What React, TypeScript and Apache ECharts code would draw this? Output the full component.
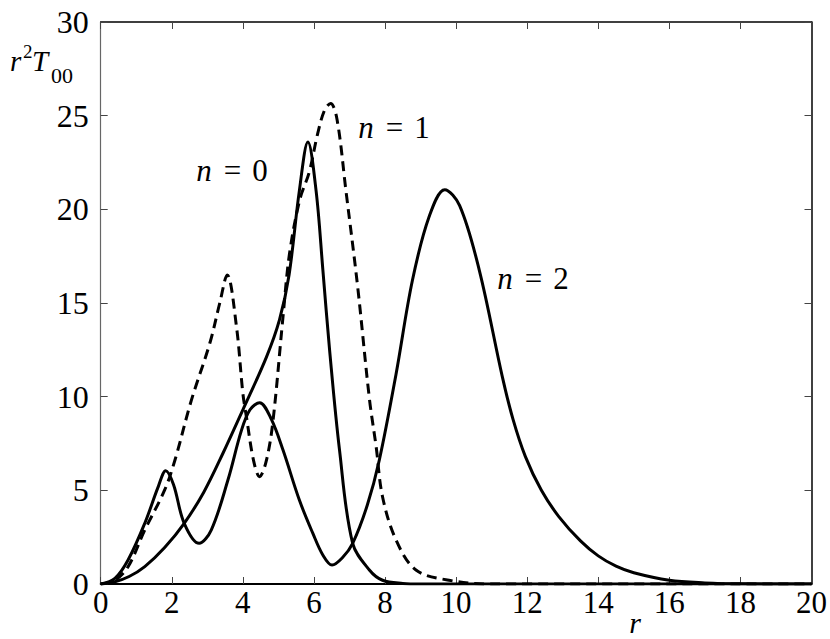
import React, { useEffect, useRef } from "react";
import * as echarts from "echarts";

// n = 0 (solid, single main peak)
const n0R = [0, 0.4, 0.8, 1.24, 1.8, 2.35, 2.9, 3.44, 4.0, 4.66, 5.03, 5.3, 5.59, 5.83, 6.06, 6.25, 6.44, 6.72, 7.09, 7.56, 7.93, 8.5, 9.0, 20];
const n0V = [0, 0.12, 0.4, 0.93, 1.95, 3.24, 4.9, 6.98, 9.3, 12.1, 14.1, 16.5, 21.0, 23.6, 21.0, 16.8, 12.5, 7.15, 2.17, 0.75, 0.2, 0.03, 0, 0];

// n = 1 (dashed)
const n1R = [0, 0.4, 0.77, 1.24, 1.8, 2.09, 2.55, 3.07, 3.35, 3.56, 3.82, 4.0, 4.1, 4.3, 4.47, 4.65, 4.84, 5.13, 5.31, 5.6, 5.87, 6.1, 6.3, 6.47, 6.65, 6.9, 7.23, 7.56, 7.75, 7.93, 8.31, 8.87, 9.8, 11, 20];
const n1V = [0, 0.2, 0.92, 2.88, 5.02, 6.62, 9.8, 12.85, 15.0, 16.5, 13.74, 10.18, 8.93, 6.6, 5.73, 6.5, 8.58, 14.27, 17.6, 20.5, 22.0, 24.0, 25.3, 25.65, 24.8, 21.0, 15.87, 9.9, 7.33, 4.66, 2.35, 0.75, 0.2, 0, 0];

// n = 2 (solid, three peaks)
const n2R = [0, 0.4, 0.77, 1.24, 1.62, 1.83, 2.05, 2.35, 2.77, 3.11, 3.58, 3.96, 4.2, 4.47, 4.8, 5.13, 5.59, 5.97, 6.25, 6.51, 6.8, 7.09, 7.5, 7.84, 8.31, 8.77, 9.24, 9.68, 10.1, 10.65, 11.3, 11.6, 11.95, 12.4, 12.89, 13.5, 14.0, 14.5, 15, 16, 17, 18, 20];
const n2V = [0, 0.3, 1.28, 3.24, 5.2, 6.05, 5.3, 3.24, 2.17, 2.88, 5.55, 8.2, 9.3, 9.68, 8.8, 7.15, 4.48, 2.7, 1.55, 1.01, 1.4, 2.17, 4.2, 6.62, 11.2, 16.2, 19.6, 21.05, 20.2, 16.77, 11.07, 8.8, 6.8, 5.0, 3.6, 2.3, 1.5, 0.95, 0.6, 0.2, 0.06, 0.01, 0];

const xMin = 0, xMax = 20, xStep = 2;
const yMin = 0, yMax = 30, yStep = 5;

const zip = (a: number[], b: number[]) => a.map((x, i) => [x, b[i]]);

export default function App() {
  const ref = useRef<HTMLDivElement>(null);
  useEffect(() => {
    const chart = echarts.init(ref.current!, null, { renderer: "svg" });
    const font = "'Liberation Serif', 'DejaVu Serif', serif";
    const lineBase = { type: "line", showSymbol: false, smooth: 0.35, xAxisIndex: 0, yAxisIndex: 0 } as any;
    const txt = (text: string, x: number, y: number, size: number, italic: boolean) => ({
      type: "text", x, y,
      style: { text, fontFamily: font, fontSize: size, fontStyle: italic ? "italic" : "normal", fill: "#000", verticalAlign: "bottom" },
    });
    const label = (text: string, x: number, y: number) => ({
      type: "text", x, y,
      style: {
        text, fontFamily: font, fontSize: 31, fill: "#000", align: "center", verticalAlign: "middle",
        rich: {
          i: { fontStyle: "italic", fontFamily: font, fontSize: 31 },
          e: { fontFamily: font, fontSize: 31, padding: [0, 11, 0, 12] },
          s: { fontFamily: font, fontSize: 31 },
        },
      },
    });
    chart.setOption({
      animation: false,
      backgroundColor: "#fff",
      grid: { left: 100.7, right: 17, top: 22, bottom: 55, containLabel: false },
      xAxis: [
        {
          type: "value", min: xMin, max: xMax, interval: xStep, position: "bottom",
          axisLine: { onZero: false, lineStyle: { color: "#000", width: 2 } },
          axisTick: { inside: true, length: 7, lineStyle: { color: "#444", width: 1 } },
          axisLabel: { fontFamily: font, fontSize: 31, color: "#000", margin: 3 },
          splitLine: { show: false },
        },
        {
          type: "value", min: xMin, max: xMax, interval: xStep, position: "top",
          axisLine: { onZero: false, lineStyle: { color: "#000", width: 1.5 } },
          axisTick: { inside: true, length: 7, lineStyle: { color: "#444", width: 1 } },
          axisLabel: { show: false },
          splitLine: { show: false },
        },
      ],
      yAxis: [
        {
          type: "value", min: yMin, max: yMax, interval: yStep, position: "left",
          axisLine: { onZero: false, lineStyle: { color: "#666", width: 1.2 } },
          axisTick: { inside: true, length: 7, lineStyle: { color: "#444", width: 1 } },
          axisLabel: { fontFamily: font, fontSize: 32, color: "#000", margin: 12 },
          splitLine: { show: false },
        },
        {
          type: "value", min: yMin, max: yMax, interval: yStep, position: "right",
          axisLine: { onZero: false, lineStyle: { color: "#000", width: 1.5 } },
          axisTick: { inside: true, length: 7, lineStyle: { color: "#444", width: 1 } },
          axisLabel: { show: false },
          splitLine: { show: false },
        },
      ],
      series: [
        { ...lineBase, name: "n = 0", data: zip(n0R, n0V), lineStyle: { color: "#000", width: 3, join: "round" } },
        { ...lineBase, name: "n = 1", data: zip(n1R, n1V), lineStyle: { color: "#000", width: 3, type: [10, 6], join: "round" } },
        { ...lineBase, name: "n = 2", data: zip(n2R, n2V), lineStyle: { color: "#000", width: 3, join: "round" } },
      ],
      graphic: [
        txt("r", 10, 75, 29, true),
        txt("2", 23, 61, 19, false),
        txt("T", 32, 75, 29, true),
        txt("00", 51, 86, 22, false),
        { type: "text", x: 635, y: 622, style: { text: "r", fontFamily: font, fontSize: 30, fontStyle: "italic", fill: "#000", align: "center", verticalAlign: "middle" } },
        label("{i|n}{e|=}{s|0}", 232, 170),
        label("{i|n}{e|=}{s|1}", 394, 127),
        label("{i|n}{e|=}{s|2}", 533, 278),
      ],
    });
    return () => chart.dispose();
  }, []);
  return <div ref={ref} style={{ position: "fixed", left: 0, top: 0, width: 830, height: 639 }} />;
}
